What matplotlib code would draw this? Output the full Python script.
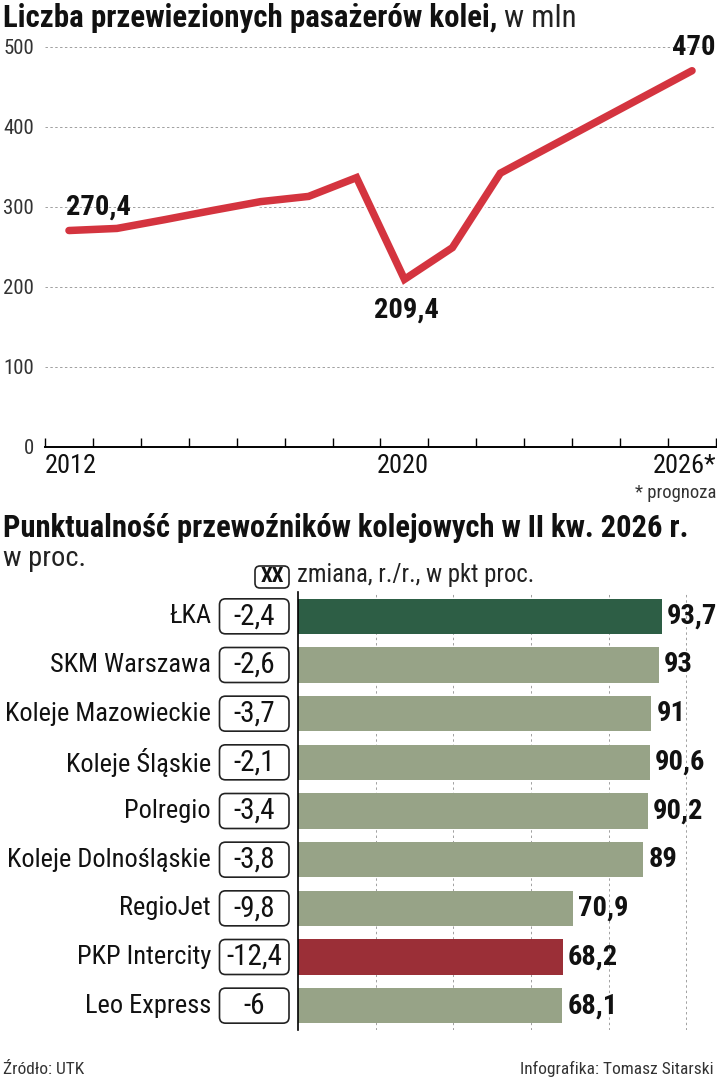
import matplotlib
matplotlib.use("Agg")
import matplotlib.pyplot as plt
from matplotlib import font_manager
from matplotlib.patches import FancyBboxPatch
from matplotlib.transforms import IdentityTransform
import matplotlib.patheffects as pe

# pick a narrow sans if there is one
names = {f.name for f in font_manager.fontManager.ttflist}
stretch = "normal"
font = "DejaVu Sans"
for cand in ["Roboto Condensed", "Liberation Sans Narrow", "Open Sans Condensed"]:
    if cand in names:
        font = cand
        break
else:
    stretch = "condensed"
plt.rcParams["font.family"] = [font, "DejaVu Sans"]
plt.rcParams["font.stretch"] = stretch

# --- data: passengers, mln ---
years = [2013, 2014, 2015, 2016, 2017, 2018, 2019, 2020, 2021, 2022, 2023, 2024, 2025, 2026]
passengers = [270.4, 273, 284, 295.5, 306.5, 313, 336.5, 209.4, 249, 342, 374, 406, 438, 470]
y_ticks = [0, 100, 200, 300, 400, 500]
year_labels = ["2012", "2020", "2026*"]

# --- data: punctuality, % ---
carriers = ["ŁKA", "SKM Warszawa", "Koleje Mazowieckie", "Koleje Śląskie", "Polregio",
            "Koleje Dolnośląskie", "RegioJet", "PKP Intercity", "Leo Express"]
punctuality = [93.7, 93, 91, 90.6, 90.2, 89, 70.9, 68.2, 68.1]
change = [-2.4, -2.6, -3.7, -2.1, -3.4, -3.8, -9.8, -12.4, -6]

RED = "#d4343f"
DARK_GREEN = "#2d5e45"
SAGE = "#97a387"
BAR_RED = "#9b2f37"
GRID = "#a0a0a0"

W, H = 717, 1080
fig = plt.figure(figsize=(W / 100, H / 100), dpi=100)


def fx(px):
    return px / W


def fy(py):
    return 1 - py / H


def pl(v):
    s = f"{v:g}"
    return s.replace(".", ",")


# ---------- top chart ----------
ax1 = fig.add_axes([fx(45), fy(447), fx(716 - 45), (447 - 40) / H])
ax1.set_xlim(2012.5, 2026.5)
ax1.set_ylim(0, 407 / 0.8006)
for v in y_ticks[1:]:
    ax1.axhline(v, color=GRID, lw=0.7, ls=(0, (2.5, 2.5)), zorder=0)
ax1.plot(years, passengers, color=RED, lw=5.4, solid_capstyle="round", solid_joinstyle="miter",
         path_effects=[pe.Stroke(linewidth=8, foreground="white"), pe.Normal()], zorder=3)
for s in ["top", "right", "left"]:
    ax1.spines[s].set_visible(False)
ax1.spines["bottom"].set_linewidth(1.4)
ax1.set_xticks([2012.5 + k for k in range(15)])
ax1.set_xticklabels([])
ax1.tick_params(axis="x", direction="in", length=6.5, width=1)
ax1.set_yticks(y_ticks)
ax1.set_yticklabels([str(v) for v in y_ticks], color="#333333", fontsize=15)
ax1.tick_params(axis="y", length=0, pad=8)
for lab, xpos, ha in zip(year_labels, [2012.5, 2020.5, 2026.5], ["left", "right", "right"]):
    ax1.text(xpos, -9, lab, ha=ha, va="top", fontsize=19, color="#111111", clip_on=False)
ax1.text(2026.5, -46, "* prognoza", ha="right", va="top", fontsize=13.4, color="#333333",
         clip_on=False)

ax1.text(2012.94, 299, pl(passengers[0]), ha="left", va="center", fontsize=20.5, fontweight="bold",
         color="#111111", zorder=5)
ax1.text(2026.5, 499, pl(passengers[-1]), ha="right", va="center", fontsize=20.5,
         fontweight="bold", color="#111111", zorder=5)
ax1.text(2020.05, 171, pl(passengers[7]), ha="center", va="center", fontsize=20.5,
         fontweight="bold", color="#111111", zorder=5,
         bbox=dict(boxstyle="square,pad=0.08", fc="white", ec="none"))

t1 = fig.text(fx(3), fy(18), "Liczba przewiezionych pasażerów kolei,", ha="left", va="center",
              fontsize=22.2, fontweight="bold", color="#111111")
fig.add_artist(plt.Annotation(" w mln", xy=(1, 0), xycoords=t1, ha="left", va="bottom",
                              fontsize=22.2, color="#222222"))

# ---------- bar chart ----------
fig.text(fx(3), fy(528), "Punktualność przewoźników kolejowych w II kw. 2026 r.", ha="left",
         va="center", fontsize=22, fontweight="bold", color="#111111")
fig.text(fx(3), fy(558), "w proc.", ha="left", va="center", fontsize=20.5, color="#222222")

ax2 = fig.add_axes([fx(298), fy(1030), fx(717 - 298), (1030 - 592) / H])
xmax = (717 - 298) / 3.882
ax2.set_xlim(0, xmax)
ax2.set_ylim(8.5, -0.5)
colors = [SAGE] * len(carriers)
colors[0] = DARK_GREEN
colors[7] = BAR_RED
rows = list(range(len(carriers)))
ax2.barh(rows, punctuality, height=0.72, color=colors, zorder=2)
for v in [20, 40, 60, 80, 100]:
    ax2.axvline(v, color=GRID, lw=0.7, ls=(0, (2.5, 3)), zorder=0)
for s in ["top", "right", "bottom"]:
    ax2.spines[s].set_visible(False)
ax2.spines["left"].set_linewidth(1.2)
ax2.set_xticks([])
ax2.set_yticks([])

for i, v in enumerate(punctuality):
    ax2.text(v + 1.3, i, pl(v), ha="left", va="center", fontsize=20.5, fontweight="bold",
             color="#111111")

fig.canvas.draw()
for i, (name, c) in enumerate(zip(carriers, change)):
    yc = ax2.transData.transform((0, i))[1]
    box = FancyBboxPatch((219.5, yc - 17.5), 69.5, 35, boxstyle="round,pad=0,rounding_size=6",
                         fc="white", ec="#222222", lw=1.2, transform=IdentityTransform())
    fig.add_artist(box)
    fig.text(fx(254.5), yc / H, pl(c), ha="center", va="center", fontsize=21, color="#111111")
    fig.text(fx(211), yc / H, name, ha="right", va="center", fontsize=19, color="#111111")

# legend for the change boxes
legend_box = FancyBboxPatch((255, H - 588), 34, 22, boxstyle="round,pad=0,rounding_size=5",
                            fc="white", ec="#222222", lw=1.2, transform=IdentityTransform())
fig.add_artist(legend_box)
fig.text(fx(272), fy(577), "XX", ha="center", va="center", fontsize=15, fontweight="bold",
         color="#111111")
fig.text(fx(297), fy(575), "zmiana, r./r., w pkt proc.", ha="left", va="center", fontsize=17.8,
         color="#222222")

fig.text(fx(3), fy(1069), "Źródło: UTK", ha="left", va="center", fontsize=12.5, color="#333333")
fig.text(fx(714), fy(1069), "Infografika: Tomasz Sitarski", ha="right", va="center",
         fontsize=12.5, color="#333333")

fig.savefig("out.png", dpi=100)
